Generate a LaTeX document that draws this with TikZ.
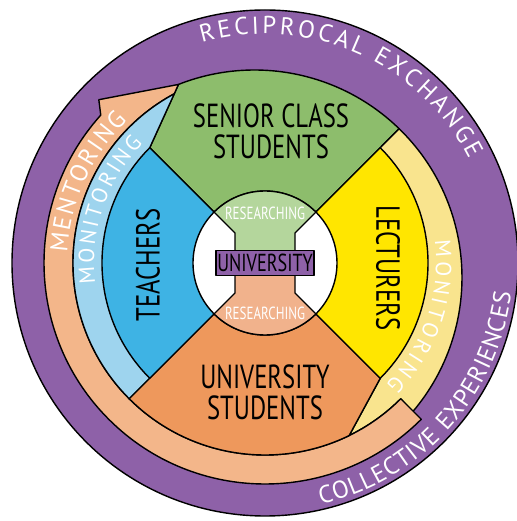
\documentclass[tikz,border=0pt]{standalone}
\usepackage{fontspec}
\setmainfont{PT Sans}
\newfontfamily\narrowfont[FakeStretch=0.74]{PT Sans}
\newfontfamily\ringfont{PT Sans}
\usepackage{tikz}
\usetikzlibrary{calc,decorations.text}

\definecolor{ringpurple}{RGB}{142,97,168}
\definecolor{seniorgreen}{RGB}{141,189,108}
\definecolor{researchgreen}{RGB}{180,214,156}
\definecolor{lectureryellow}{RGB}{255,230,0}
\definecolor{monitoryellow}{RGB}{249,228,142}
\definecolor{teacherblue}{RGB}{62,179,228}
\definecolor{monitorblue}{RGB}{158,212,238}
\definecolor{studentorange}{RGB}{238,152,92}
\definecolor{mentorsalmon}{RGB}{243,182,138}
\definecolor{researchsalmon}{RGB}{241,178,140}

\newcommand{\ringtext}{\ringfont\fontsize{14}{16}\selectfont\color{white}}
\newcommand{\bandtext}{\ringfont\fontsize{12.5}{14}\selectfont\color{white}}

\begin{document}
\begin{tikzpicture}[
x=0.02cm,
y=0.02cm,
line join=round,
part/.style={draw=black,line width=0.8pt},
bigword/.style={font=\narrowfont\fontsize{19}{17.6}\selectfont,align=center,text=black,inner sep=0pt},
researchword/.style={font=\narrowfont\fontsize{10}{11}\selectfont,text=white,inner sep=0pt},
unibox/.style={rectangle,draw=black,line width=0.8pt,fill=ringpurple,minimum width=1.96cm,minimum height=0.5cm,inner sep=0pt,font=\narrowfont\fontsize{14}{14}\selectfont},
ringword/.style={decorate,decoration={text along path,text align=fit to path,text={#1}}}
]
\fill[white] (0,0) rectangle (517,521);
\useasboundingbox (0,0) rectangle (517,521);

\coordinate (C) at (265,258);
\coordinate (Pc) at (254.5,243.5);
\coordinate (TL) at ($(C)+(135:163)$);
\coordinate (TR) at ($(C)+(45:163)$);
\coordinate (BR) at ($(C)+(-45:163)$);
\coordinate (BL) at ($(C)+(225:163)$);
\coordinate (tip) at ($(Pc)+(111.5:207.5)$);
\coordinate (greenend) at ($(Pc)+(45.8:207.5)$);
\coordinate (tailin) at ($(C)+(-45:192)$);
\coordinate (tailout) at ($(C)+(-45:221)$);
\coordinate (barb) at ($(C)+(135.5:233)$);
\coordinate (tipin) at ($(C)+(118.2:192)$);
\coordinate (blueout) at ($(C)+(225:192)$);

\filldraw[part,fill=ringpurple] (C) circle[radius=253];
\filldraw[part,fill=seniorgreen] (TL) -- (tip) arc[start angle=111.5,end angle=45.8,radius=207.5] -- (TR) -- (C) -- cycle;
\filldraw[part,fill=monitoryellow] (TR) -- (greenend) arc[start angle=45.8,end angle=-40.4,radius=207.5] -- (tailin) arc[start angle=-45,end angle=-64,radius=192] -- (BR) -- (C) -- cycle;
\filldraw[part,fill=mentorsalmon] (tailin) -- (tailout) arc[start angle=-45,end angle=-222,radius=221] -- (barb) -- (tip) -- (tipin) arc[start angle=118.2,end angle=315,radius=192] -- cycle;
\filldraw[part,fill=monitorblue] (C) -- (blueout) arc[start angle=225,end angle=118.2,radius=192] -- (TL) -- cycle;
\filldraw[part,fill=studentorange] (C) -- (blueout) arc[start angle=225,end angle=296,radius=192] -- (BR) -- cycle;
\filldraw[part,fill=teacherblue] (C) -- (TL) arc[start angle=135,end angle=225,radius=163] -- cycle;
\filldraw[part,fill=lectureryellow] (C) -- (TR) arc[start angle=45,end angle=-45,radius=163] -- cycle;

\filldraw[part,fill=white] (C) circle[radius=72];
\filldraw[part,fill=researchgreen] ($(C)+(45:72)$) arc[start angle=45,end angle=135,radius=72] -- ($(C)+(-30,30)$) -- ($(C)+(-30,0)$) -- ($(C)+(30,0)$) -- ($(C)+(30,30)$) -- cycle;
\filldraw[part,fill=researchsalmon] ($(C)+(225:72)$) arc[start angle=225,end angle=315,radius=72] -- ($(C)+(30,-30)$) -- ($(C)+(30,0)$) -- ($(C)+(-30,0)$) -- ($(C)+(-30,-30)$) -- cycle;

\path[ringword={|\ringtext|RECIPROCAL EXCHANGE}] ($(C)+(106:229)$) arc[start angle=106,end angle=27,radius=229];
\path[ringword={|\ringtext|COLLECTIVE EXPERIENCES}] ($(C)+(-77:248)$) arc[start angle=-77,end angle=-7,radius=248];
\path[ringword={|\ringtext|MENTORING}] ($(C)+(177:198)$) arc[start angle=177,end angle=134,radius=198];
\path[ringword={|\bandtext|MONITORING}] ($(C)+(187:171)$) arc[start angle=187,end angle=135.5,radius=171];
\path[ringword={|\bandtext|MONITORING}] ($(C)+(7.5:171)$) arc[start angle=7.5,end angle=-45,radius=171];

\node[bigword] (senior) at (271,390) {SENIOR CLASS\\STUDENTS};
\node[bigword] (unistudents) at (265,129) {UNIVERSITY\\STUDENTS};
\node[bigword,rotate=90] (teachers) at (148,256) {TEACHERS};
\node[bigword,rotate=-90] (lecturers) at (388,253) {LECTURERS};
\node[researchword] (researchtop) at (265,308) {RESEARCHING};
\node[researchword] (researchbottom) at (265,208) {RESEARCHING};
\node[unibox] (university) at (C) {UNIVERSITY};
\end{tikzpicture}
\end{document}
